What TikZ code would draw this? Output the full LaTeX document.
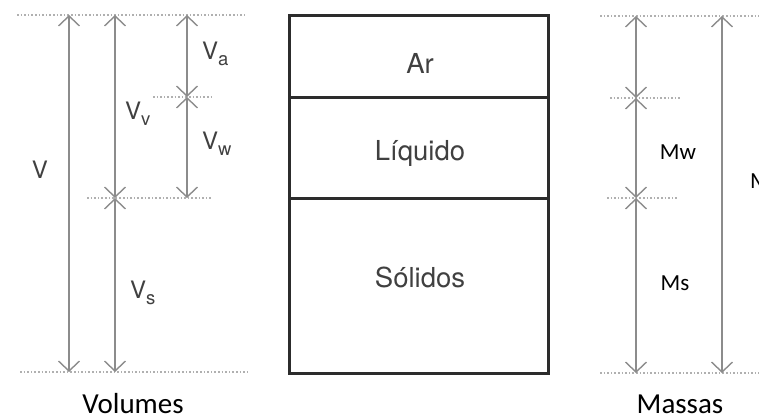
\documentclass[tikz,border=0pt]{standalone}
\usepackage{fontspec}
\setmainfont{Carlito}
\newfontfamily\helv{TeX Gyre Heros}
\usetikzlibrary{arrows.meta}
\definecolor{dimgrey}{HTML}{8C8C8C}
\definecolor{guidegrey}{HTML}{B0B0B0}
\definecolor{labelgrey}{HTML}{404040}
\definecolor{wallgrey}{HTML}{2C2C2C}
\tikzset{
  dimarrow/.style={{Straight Barb[length=10pt,width=21pt]}-{Straight Barb[length=10pt,width=21pt]}, line width=1.4pt, draw=dimgrey},
  guide/.style={draw=guidegrey, dotted, line width=1.6pt},
  phase/.style={draw=wallgrey, line width=3pt},
  vlabel/.style={font=\helv\fontsize{24}{26}\selectfont, text=labelgrey, inner sep=0pt},
  phaselabel/.style={font=\helv\fontsize{27.5}{30}\selectfont, text=labelgrey, inner sep=0pt},
  mlabel/.style={font=\fontsize{23}{25}\selectfont, inner sep=0pt},
  caption/.style={font=\fontsize{29}{32}\selectfont, inner sep=0pt, anchor=base}
}
\newcommand{\vsub}[1]{V\raisebox{-6pt}{\fontsize{18.5}{20}\selectfont #1}}

\begin{document}
\begin{tikzpicture}[x=1pt, y=-1pt]
  \useasboundingbox (0,0) rectangle (759,419);

  \coordinate (vtop) at (69,15);
  \coordinate (vbot) at (69,372);
  \coordinate (vvtop) at (115,15);
  \coordinate (vvbot) at (115,198);
  \coordinate (vsbot) at (115,372);
  \coordinate (vatop) at (187,15);
  \coordinate (vamid) at (187,97);
  \coordinate (vwbot) at (187,198);

  \coordinate (mtop) at (636,16);
  \coordinate (mamid) at (636,98);
  \coordinate (mwbot) at (636,198);
  \coordinate (msbot) at (636,373);
  \coordinate (mttop) at (722,16);
  \coordinate (mtbot) at (722,373);

  \draw[guide] (17,15) -- (245,15);
  \draw[guide] (153,97) -- (212,97);
  \draw[guide] (87,198) -- (212,198);
  \draw[guide] (20,372) -- (247,372);
  \draw[guide] (600,16) -- (759,16);
  \draw[guide] (610,98) -- (680,98);
  \draw[guide] (607,198) -- (677,198);
  \draw[guide] (600,373) -- (759,373);

  \draw[dimarrow] (vtop) -- (vbot);
  \draw[dimarrow] (vvtop) -- (vvbot);
  \draw[dimarrow] (vvbot) -- (vsbot);
  \draw[dimarrow] (vatop) -- (vamid);
  \draw[dimarrow] (vamid) -- (vwbot);
  \draw[dimarrow] (mtop) -- (mamid);
  \draw[dimarrow] (mamid) -- (mwbot);
  \draw[dimarrow] (mwbot) -- (msbot);
  \draw[dimarrow] (mttop) -- (mtbot);

  \node[vlabel] (vlab) at (40,170) {V};
  \node[vlabel, anchor=base west] (vvlab) at (125,120) {\vsub{v}};
  \node[vlabel, anchor=base west] (valab) at (202,60) {\vsub{a}};
  \node[vlabel, anchor=base west] (vwlab) at (202,150) {\vsub{w}};
  \node[vlabel, anchor=base west] (vslab) at (130,298) {\vsub{s}};

  \draw[phase] (289,16) rectangle (548,373);
  \draw[phase] (289,98) -- (548,98);
  \draw[phase] (289,199) -- (548,199);
  \node[phaselabel] (ar) at (420,63) {Ar};
  \node[phaselabel] (liquido) at (420,153) {Líquido};
  \node[phaselabel] (solidos) at (420,277) {Sólidos};

  \node[mlabel] (mwlab) at (678,152) {Mw};
  \node[mlabel] (mslab) at (675,283) {Ms};
  \node[mlabel, anchor=west] (mlab) at (750,181) {M};

  \node[caption] (volumes) at (133,413) {Volumes};
  \node[caption] (massas) at (680,413) {Massas};
\end{tikzpicture}
\end{document}
